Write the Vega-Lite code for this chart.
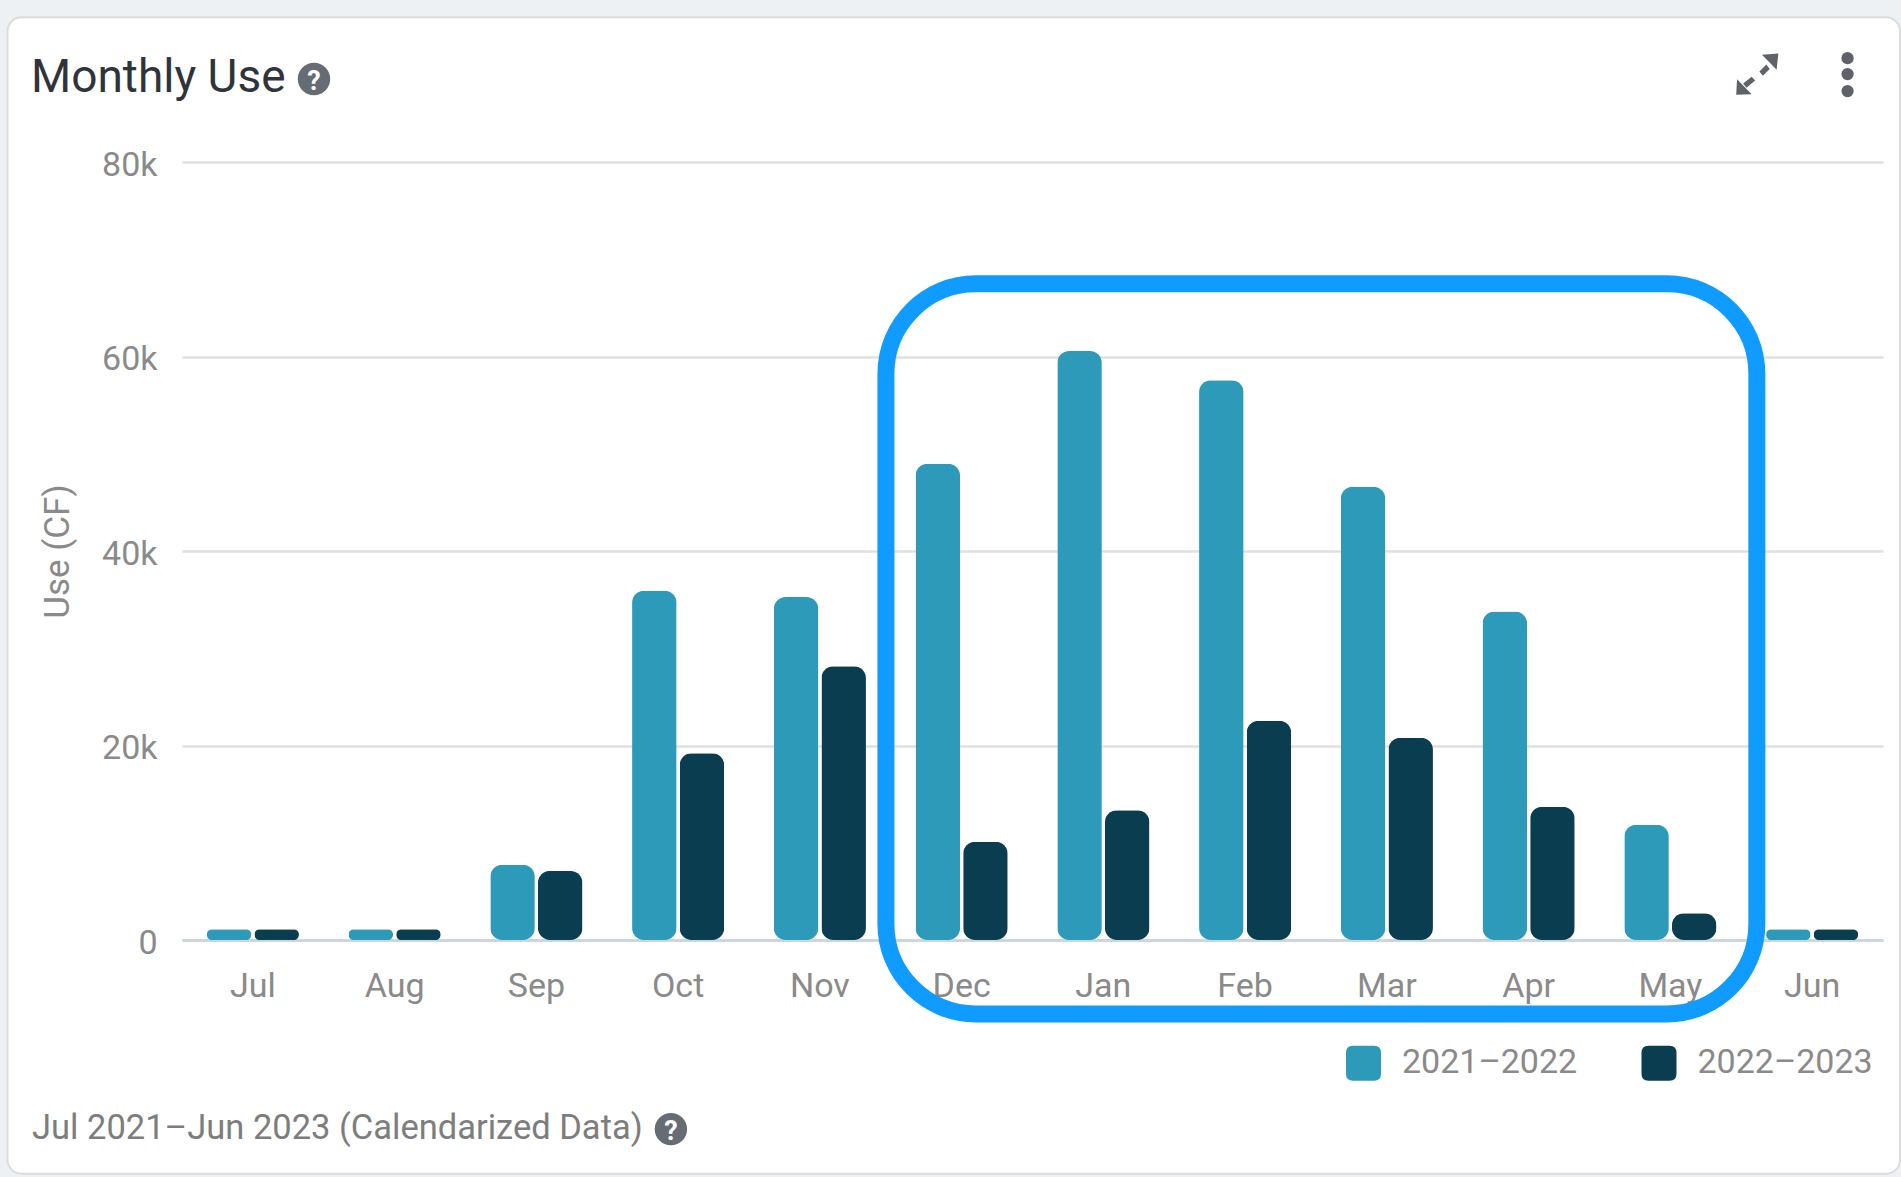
{
"$schema":"https://vega.github.io/schema/vega-lite/v6.json",
"width":1701,"height":778,
"autosize":{"type":"none"},
"padding":{"left":182,"top":162,"right":18,"bottom":237},
"background":"#ffffff",
"config":{"view":{"stroke":null},"font":"Roboto"},
"data":{"values":[
{"month":"Jul","season":"2021–2022","use":1100},{"month":"Jul","season":"2022–2023","use":1100},
{"month":"Aug","season":"2021–2022","use":1100},{"month":"Aug","season":"2022–2023","use":1100},
{"month":"Sep","season":"2021–2022","use":7725},{"month":"Sep","season":"2022–2023","use":7100},
{"month":"Oct","season":"2021–2022","use":35900},{"month":"Oct","season":"2022–2023","use":19200},
{"month":"Nov","season":"2021–2022","use":35260},{"month":"Nov","season":"2022–2023","use":28160},
{"month":"Dec","season":"2021–2022","use":48970},{"month":"Dec","season":"2022–2023","use":10090},
{"month":"Jan","season":"2021–2022","use":60560},{"month":"Jan","season":"2022–2023","use":13330},
{"month":"Feb","season":"2021–2022","use":57570},{"month":"Feb","season":"2022–2023","use":22550},
{"month":"Mar","season":"2021–2022","use":46600},{"month":"Mar","season":"2022–2023","use":20800},
{"month":"Apr","season":"2021–2022","use":33770},{"month":"Apr","season":"2022–2023","use":13700},
{"month":"May","season":"2021–2022","use":11840},{"month":"May","season":"2022–2023","use":2740},
{"month":"Jun","season":"2021–2022","use":1100},{"month":"Jun","season":"2022–2023","use":1100}
]},
"resolve":{"scale":{"x":"independent"},"axis":{"x":"independent"}},
"layer":[
{"mark":{"type":"bar","cornerRadius":12,"stroke":null},
 "encoding":{
  "x":{"field":"month","type":"nominal","sort":["Jul","Aug","Sep","Oct","Nov","Dec","Jan","Feb","Mar","Apr","May","Jun"],
   "scale":{"paddingInner":0.35,"paddingOuter":0.175},
   "axis":{"title":null,"labelAngle":0,"labelFont":"Roboto","labelFontSize":34,"labelColor":"#8a8a8a","labelPadding":29,"ticks":false,"domainColor":"#ccd6e0","domainWidth":3,"grid":false}},
  "xOffset":{"field":"season","type":"nominal","scale":{"paddingInner":0.065}},
  "y":{"field":"use","type":"quantitative","scale":{"domain":[0,80000],"nice":false},
   "axis":{"title":"Use (CF)","titleFont":"Roboto","titleFontSize":35,"titleFontWeight":"normal","titleColor":"#8a8a8a","titlePadding":26,"values":[0,20000,40000,60000,80000],"labelExpr":"datum.value==0?'0':(datum.value/1000)+'k'","labelFont":"Roboto","labelFontSize":34,"labelColor":"#8a8a8a","labelPadding":25,"labelOffset":3,"ticks":false,"domain":false,"grid":true,"gridColor":"#e0e0e0","gridWidth":2.5}},
  "color":{"field":"season","type":"nominal","scale":{"domain":["2021–2022","2022–2023"],"range":["#2e9aba","#0a3d50"]},
   "legend":{"title":null,"orient":"none","direction":"horizontal","legendX":1146.5,"legendY":866,"symbolType":"M-0.5,-0.3Q-0.5,-0.5,-0.3,-0.5L0.3,-0.5Q0.5,-0.5,0.5,-0.3L0.5,0.3Q0.5,0.5,0.3,0.5L-0.3,0.5Q-0.5,0.5,-0.5,0.3Z","symbolSize":4900,"symbolStrokeWidth":0,"labelFont":"Roboto","labelFontSize":34,"labelColor":"#8a8a8a","labelLimit":400,"labelOffset":3.5,"columnPadding":46.5}}
 }},
{"data":{"values":[{}]},"mark":{"type":"rect","filled":false,"stroke":"#eef1f4","strokeWidth":40,"cornerRadius":34},
 "encoding":{"x":{"datum":-1.372,"scale":{"domain":[0,12]},"axis":null},"x2":{"datum":12.26},"y":{"datum":96950},"y2":{"datum":-26090}}},
{"data":{"values":[{}]},"mark":{"type":"rect","filled":false,"stroke":"#dcdcdc","strokeWidth":2,"cornerRadius":14},
 "encoding":{"x":{"datum":-1.231,"scale":{"domain":[0,12]},"axis":null},"x2":{"datum":12.12},"y":{"datum":94895},"y2":{"datum":-24032}}},
{"data":{"values":[{}]},"mark":{"type":"rect","filled":false,"stroke":"#0f9bff","strokeWidth":17,"cornerRadius":90},
 "encoding":{"x":{"datum":4.966,"scale":{"domain":[0,12]},"axis":null},"x2":{"datum":11.11},"y":{"datum":67475},"y2":{"datum":-7600}}},
{"data":{"values":[{}]},"mark":{"type":"text","text":"Monthly Use","font":"Roboto","fontSize":46,"color":"#2f343a","align":"left","baseline":"alphabetic"},
 "encoding":{"x":{"datum":-1.065,"scale":{"domain":[0,12]},"axis":null},"y":{"datum":87192}}},
{"data":{"values":[{}]},"mark":{"type":"text","text":"Jul 2021–Jun 2023 (Calendarized Data)","font":"Roboto","fontSize":34.5,"color":"#7d7d7d","align":"left","baseline":"alphabetic"},
 "encoding":{"x":{"datum":-1.058,"scale":{"domain":[0,12]},"axis":null},"y":{"datum":-20500}}},
{"data":{"values":[{"px":0.931,"py":88540},{"px":3.449,"py":-19450}]},"mark":{"type":"point","shape":"circle","filled":true,"size":1050,"color":"#666c74","opacity":1},
 "encoding":{"x":{"field":"px","type":"quantitative","scale":{"domain":[0,12]},"axis":null},"y":{"field":"py","type":"quantitative"}}},
{"data":{"values":[{"px":0.931,"py":87400},{"px":3.449,"py":-20580}]},"mark":{"type":"text","text":"?","font":"Roboto","fontWeight":"bold","fontSize":27,"color":"#ffffff","align":"center","baseline":"alphabetic"},
 "encoding":{"x":{"field":"px","type":"quantitative","scale":{"domain":[0,12]},"axis":null},"y":{"field":"py","type":"quantitative"}}},
{"data":{"values":[{}]},"mark":{"type":"point","filled":true,"size":7400,"color":"#5f6369","opacity":1,"shape":"M0.5,-0.48L0.12,-0.45L0.46,-0.1Z M0.22,-0.22L0.3,-0.12L0.14,0.04L0.06,-0.06Z M-0.48,0.48L-0.12,0.47L-0.46,0.12Z M-0.12,0.06L-0.04,0.15L-0.24,0.32L-0.32,0.22Z"},
 "encoding":{"x":{"datum":11.11,"scale":{"domain":[0,12]},"axis":null},"y":{"datum":89040}}},
{"data":{"values":[{"py":90680},{"py":89040},{"py":87290}]},"mark":{"type":"point","shape":"circle","filled":true,"size":150,"color":"#5f6369","opacity":1},
 "encoding":{"x":{"datum":11.75,"scale":{"domain":[0,12]},"axis":null},"y":{"field":"py","type":"quantitative"}}}
]
}
